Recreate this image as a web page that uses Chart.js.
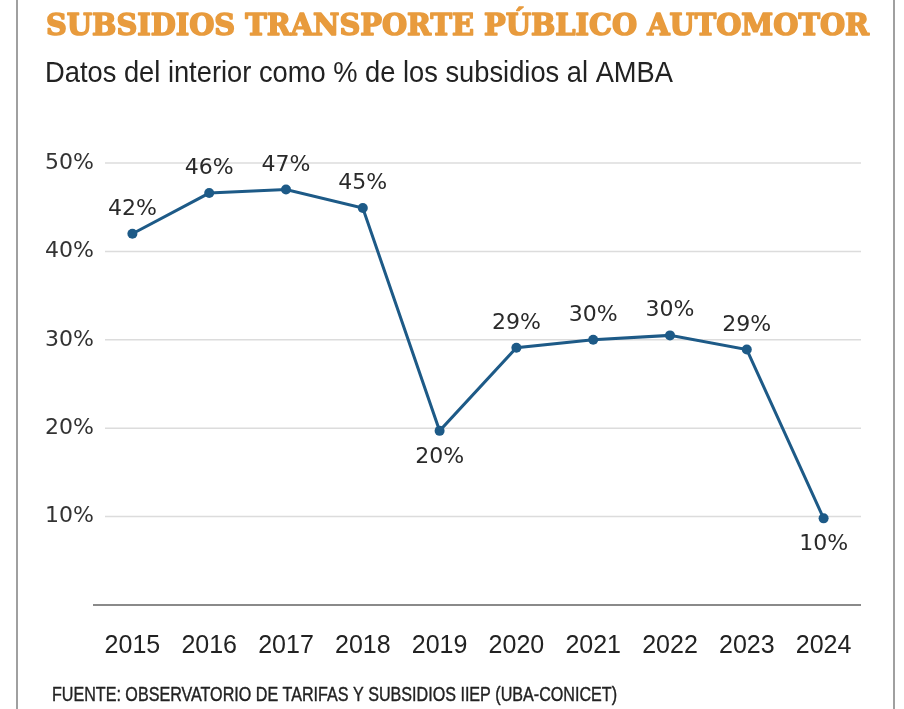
<!DOCTYPE html>
<html>
<head>
<meta charset="utf-8">
<script src="https://cdn.jsdelivr.net/npm/chart.js@4"></script>
<style>
  html, body { margin: 0; padding: 0; background: #fff; }
  #wrap { width: 904px; height: 709px; position: relative; }
</style>
</head>
<body>
<div id="wrap"><canvas id="chart" width="904" height="709"></canvas></div>
<script>
const years = ["2015", "2016", "2017", "2018", "2019", "2020", "2021", "2022", "2023", "2024"];
const shares = [42.0, 46.6, 47.0, 44.9, 19.7, 29.1, 30.0, 30.5, 28.9, 9.8];
const pointLabels = ["42%", "46%", "47%", "45%", "20%", "29%", "30%", "30%", "29%", "10%"];
const yTicks = [0, 10, 20, 30, 40, 50];

const titleText = "SUBSIDIOS TRANSPORTE PÚBLICO AUTOMOTOR";
const subtitleText = "Datos del interior como % de los subsidios al AMBA";
const sourceText = "FUENTE: OBSERVATORIO DE TARIFAS Y SUBSIDIOS IIEP (UBA-CONICET)";

const lineColor = "#1d5a87";

// draw text stretched/squeezed to a given width
function fitText(ctx, text, x, y, width, stroke) {
  const w = ctx.measureText(text).width;
  ctx.save();
  ctx.translate(x, y);
  ctx.scale(width / w, 1);
  if (stroke) {
    ctx.lineWidth = stroke;
    ctx.lineJoin = "round";
    ctx.strokeStyle = ctx.fillStyle;
    ctx.strokeText(text, 0, 0);
  }
  ctx.fillText(text, 0, 0);
  ctx.restore();
}

const decor = {
  id: "decor",
  beforeDraw(chart) {
    const ctx = chart.ctx;
    ctx.save();
    ctx.fillStyle = "#fff";
    ctx.fillRect(0, 0, chart.width, chart.height);
    // frame sides
    ctx.strokeStyle = "#a0a0a0";
    ctx.lineWidth = 2;
    ctx.beginPath();
    ctx.moveTo(17, 0); ctx.lineTo(17, chart.height);
    ctx.moveTo(894, 0); ctx.lineTo(894, chart.height);
    ctx.stroke();

    ctx.textAlign = "left";
    ctx.textBaseline = "alphabetic";
    ctx.fillStyle = "#e89b3d";
    ctx.font = 'bold 30px "DejaVu Serif"';
    fitText(ctx, titleText, 46, 35, 823, 1.6);

    ctx.fillStyle = "#222";
    ctx.font = '29px "Liberation Sans"';
    fitText(ctx, subtitleText, 45, 82, 628);

    ctx.font = '20px "Liberation Sans"';
    fitText(ctx, sourceText, 52, 701, 565, 0.4);

    // horizontal grid from the y scale
    const y = chart.scales.y;
    ctx.strokeStyle = "#dcdcdc";
    ctx.lineWidth = 1.5;
    for (const v of yTicks) {
      if (v === 0) continue;
      const py = y.getPixelForValue(v);
      ctx.beginPath();
      ctx.moveTo(105, py);
      ctx.lineTo(chart.chartArea.right - 1, py);
      ctx.stroke();
    }
    const p0 = y.getPixelForValue(0);
    ctx.strokeStyle = "#8a8a8a";
    ctx.lineWidth = 2;
    ctx.beginPath();
    ctx.moveTo(chart.chartArea.left - 1, p0);
    ctx.lineTo(chart.chartArea.right - 1, p0);
    ctx.stroke();
    ctx.restore();
  },
  afterDatasetsDraw(chart) {
    const ctx = chart.ctx;
    const meta = chart.getDatasetMeta(0);
    ctx.save();
    ctx.fillStyle = "#2a2a2a";
    ctx.font = '22px "DejaVu Sans"';
    ctx.textAlign = "center";
    meta.data.forEach((pt, i) => {
      const prev = i > 0 ? shares[i - 1] : shares[i];
      const below = shares[i] < prev - 5;
      if (below) {
        ctx.textBaseline = "top";
        ctx.fillText(pointLabels[i], pt.x, pt.y + 15);
      } else {
        ctx.textBaseline = "alphabetic";
        ctx.fillText(pointLabels[i], pt.x, pt.y - 19);
      }
    });
    ctx.restore();
  }
};

new Chart(document.getElementById("chart"), {
  type: "line",
  data: {
    labels: years,
    datasets: [{
      data: shares,
      borderColor: lineColor,
      backgroundColor: lineColor,
      borderWidth: 3,
      pointRadius: 5,
      pointBackgroundColor: lineColor,
      pointBorderWidth: 0,
      tension: 0
    }]
  },
  options: {
    responsive: false,
    animation: false,
    devicePixelRatio: 1,
    layout: { padding: { top: 163, right: 42, left: 0, bottom: 0 } },
    plugins: { legend: { display: false }, tooltip: { enabled: false } },
    scales: {
      x: {
        offset: true,
        grid: { display: false, drawTicks: false },
        border: { display: false },
        ticks: {
          color: "#222",
          font: { family: "Liberation Sans", size: 25 },
          padding: 26,
          maxRotation: 0,
          autoSkip: false
        },
        afterFit(scale) { scale.height = 104; }
      },
      y: {
        min: 0,
        max: 50,
        grid: { display: false, drawTicks: false },
        border: { display: false },
        afterBuildTicks(scale) { scale.ticks = yTicks.map(v => ({ value: v })); },
        ticks: {
          color: "#333",
          font: { family: "DejaVu Sans", size: 22 },
          padding: 0,
          callback: v => v === 0 ? "" : v + "%"
        },
        afterFit(scale) { scale.width = 94; }
      }
    }
  },
  plugins: [decor]
});
</script>
</body>
</html>
